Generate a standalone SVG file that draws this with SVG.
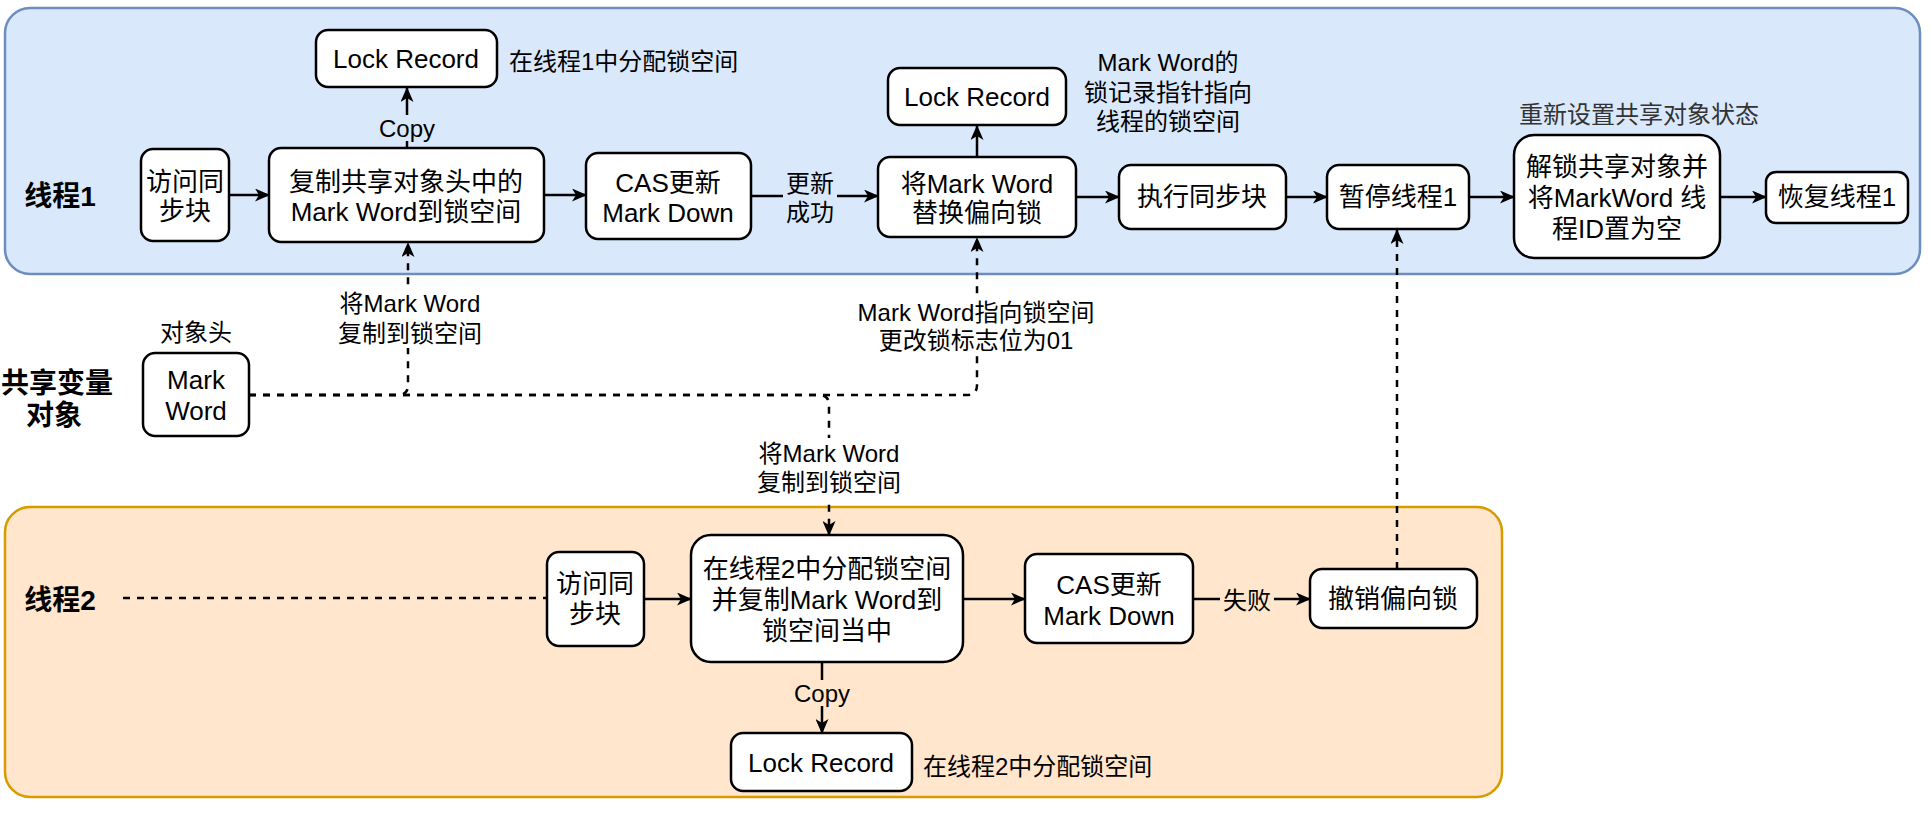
<svg xmlns="http://www.w3.org/2000/svg" width="1930" height="816" viewBox="0 0 1930 816">
<defs>
<style>
text{font-family:"Liberation Sans","Noto Sans CJK SC",sans-serif;fill:#000;dominant-baseline:central}
.t{font-size:26px;text-anchor:middle}
.l{font-size:24px;text-anchor:middle}
.ls{font-size:24px;text-anchor:start}
.h{font-size:28px;font-weight:bold;text-anchor:middle}
.box{fill:#fff;stroke:#000;stroke-width:2.5}
.ln{fill:none;stroke:#000;stroke-width:2.5}
.dash{fill:none;stroke:#000;stroke-width:2.5;stroke-dasharray:7 7}
</style>
<marker id="arr" markerUnits="userSpaceOnUse" markerWidth="15" markerHeight="13" refX="14" refY="6.5" orient="auto">
<path d="M0,0 L15,6.5 L0,13 L4,6.5 z" fill="#000"/>
</marker>
</defs>

<g id="thread1-lane">
<rect x="5" y="8" width="1915" height="266" rx="25" fill="#dae8fc" stroke="#6c8ebf" stroke-width="2.5"/>
<text class="h" x="60" y="196">线程1</text>
</g>
<g id="thread2-lane">
<rect x="5" y="507" width="1497" height="290" rx="25" fill="#ffe6cc" stroke="#d79b00" stroke-width="2.5"/>
<text class="h" x="60" y="600">线程2</text>
</g>

<g id="connectors">
<path class="ln" d="M229,195 L269,195" marker-end="url(#arr)"/>
<path class="ln" d="M544,195 L586,195" marker-end="url(#arr)"/>
<path class="ln" d="M751,196 L878,196" marker-end="url(#arr)"/>
<path class="ln" d="M1076,197 L1119,197" marker-end="url(#arr)"/>
<path class="ln" d="M1286,197 L1327,197" marker-end="url(#arr)"/>
<path class="ln" d="M1469,197 L1514,197" marker-end="url(#arr)"/>
<path class="ln" d="M1720,197 L1766,197" marker-end="url(#arr)"/>
<path class="ln" d="M407,148 L407,88" marker-end="url(#arr)"/>
<path class="ln" d="M977,157 L977,126" marker-end="url(#arr)"/>
<path class="dash" d="M249,395 L398,395 Q408,395 408,385 L408,243" marker-end="url(#arr)"/>
<path class="dash" d="M249,395 L967,395 Q977,395 977,385 L977,238" marker-end="url(#arr)"/>
<path class="dash" d="M249,395 L819,395 Q829,395 829,405 L829,535" marker-end="url(#arr)"/>
<path class="dash" d="M123,598 L547,598"/>
<path class="ln" d="M644,599 L691,599" marker-end="url(#arr)"/>
<path class="ln" d="M963,599 L1025,599" marker-end="url(#arr)"/>
<path class="ln" d="M1193,599 L1310,599" marker-end="url(#arr)"/>
<path class="ln" d="M822,662 L822,733" marker-end="url(#arr)"/>
<path class="dash" d="M1397,569 L1397,230" marker-end="url(#arr)"/>
<g id="edge-labels">
<rect x="380" y="115" width="54" height="26" fill="#dae8fc"/>
<text class="l" x="407" y="128">Copy</text>
<rect x="783" y="167" width="54" height="60" fill="#dae8fc"/>
<text class="l" x="810" y="183">更新</text>
<text class="l" x="810" y="212">成功</text>
<rect x="335" y="288" width="150" height="60" fill="#fff"/>
<text class="l" x="410" y="303">将Mark Word</text>
<text class="l" x="410" y="333">复制到锁空间</text>
<rect x="850" y="297" width="252" height="58" fill="#fff"/>
<text class="l" x="976" y="312">Mark Word指向锁空间</text>
<text class="l" x="976" y="340">更改锁标志位为01</text>
<rect x="752" y="438" width="154" height="60" fill="#fff"/>
<text class="l" x="829" y="453">将Mark Word</text>
<text class="l" x="829" y="482">复制到锁空间</text>
<rect x="795" y="680" width="54" height="26" fill="#ffe6cc"/>
<text class="l" x="822" y="693">Copy</text>
<rect x="1220" y="585" width="54" height="30" fill="#ffe6cc"/>
<text class="l" x="1247" y="600">失败</text>
</g>
</g>

<g id="t1-access">
<rect class="box" x="141" y="149" width="88" height="92" rx="12"/>
<text class="t" x="185" y="182">访问同</text>
<text class="t" x="185" y="211">步块</text>
</g>
<g id="t1-copy">
<rect class="box" x="269" y="148" width="275" height="94" rx="12"/>
<text class="t" x="406" y="182">复制共享对象头中的</text>
<text class="t" x="406" y="212">Mark Word到锁空间</text>
</g>
<g id="t1-lockrecord">
<rect class="box" x="316" y="30" width="181" height="57" rx="12"/>
<text class="t" x="406" y="59">Lock Record</text>
<text class="ls" x="509" y="61">在线程1中分配锁空间</text>
</g>
<g id="t1-cas">
<rect class="box" x="586" y="153" width="165" height="86" rx="12"/>
<text class="t" x="668" y="183">CAS更新</text>
<text class="t" x="668" y="213">Mark Down</text>
</g>
<g id="t1-replace">
<rect class="box" x="878" y="157" width="198" height="80" rx="12"/>
<text class="t" x="977" y="184">将Mark Word</text>
<text class="t" x="977" y="213">替换偏向锁</text>
</g>
<g id="t1-lockrecord2">
<rect class="box" x="888" y="68" width="178" height="57" rx="12"/>
<text class="t" x="977" y="97">Lock Record</text>
<text class="l" x="1168" y="62">Mark Word的</text>
<text class="l" x="1168" y="92">锁记录指针指向</text>
<text class="l" x="1168" y="121">线程的锁空间</text>
</g>
<g id="t1-exec">
<rect class="box" x="1119" y="165" width="167" height="64" rx="12"/>
<text class="t" x="1202" y="197">执行同步块</text>
</g>
<g id="t1-pause">
<rect class="box" x="1327" y="165" width="142" height="64" rx="12"/>
<text class="t" x="1398" y="197">暂停线程1</text>
</g>
<g id="t1-unlock">
<text class="l" x="1639" y="114" style="fill:#333">重新设置共享对象状态</text>
<rect class="box" x="1514" y="135" width="206" height="123" rx="20"/>
<text class="t" x="1617" y="167">解锁共享对象并</text>
<text class="t" x="1617" y="198">将MarkWord 线</text>
<text class="t" x="1617" y="229">程ID置为空</text>
</g>
<g id="t1-resume">
<rect class="box" x="1766" y="172" width="142" height="51" rx="10"/>
<text class="t" x="1837" y="197">恢复线程1</text>
</g>

<g id="shared-object">
<text class="h" x="57" y="383">共享变量</text>
<text class="h" x="54" y="415">对象</text>
<text class="l" x="196" y="332">对象头</text>
<rect class="box" x="143" y="353" width="106" height="83" rx="12"/>
<text class="t" x="196" y="380">Mark</text>
<text class="t" x="196" y="411">Word</text>
</g>

<g id="t2-access">
<rect class="box" x="547" y="552" width="97" height="94" rx="12"/>
<text class="t" x="595" y="584">访问同</text>
<text class="t" x="595" y="614">步块</text>
</g>
<g id="t2-alloc">
<rect class="box" x="691" y="535" width="272" height="127" rx="20"/>
<text class="t" x="827" y="569">在线程2中分配锁空间</text>
<text class="t" x="827" y="600">并复制Mark Word到</text>
<text class="t" x="827" y="631">锁空间当中</text>
</g>
<g id="t2-lockrecord">
<rect class="box" x="731" y="733" width="181" height="58" rx="12"/>
<text class="t" x="821" y="763">Lock Record</text>
<text class="ls" x="923" y="766">在线程2中分配锁空间</text>
</g>
<g id="t2-cas">
<rect class="box" x="1025" y="554" width="168" height="89" rx="12"/>
<text class="t" x="1109" y="585">CAS更新</text>
<text class="t" x="1109" y="616">Mark Down</text>
</g>
<g id="t2-revoke">
<rect class="box" x="1310" y="569" width="167" height="59" rx="12"/>
<text class="t" x="1393" y="599">撤销偏向锁</text>
</g>
</svg>
